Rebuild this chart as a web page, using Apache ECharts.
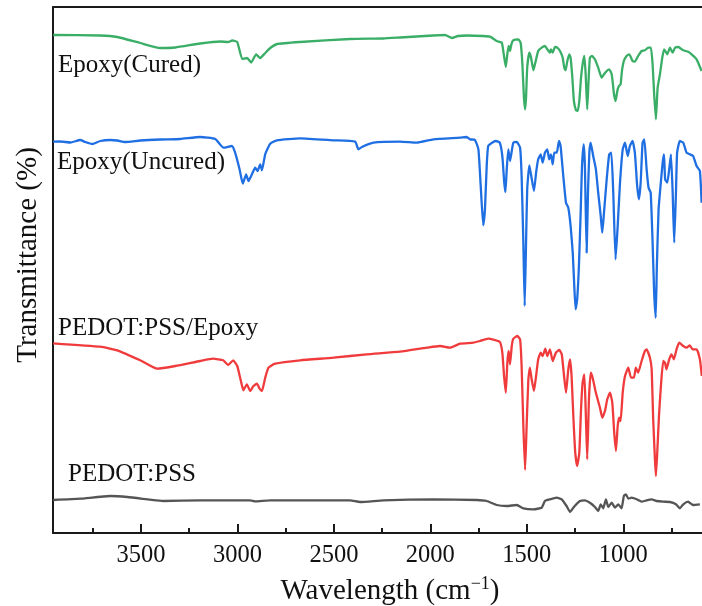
<!DOCTYPE html>
<html>
<head>
<meta charset="utf-8">
<script src="https://cdn.jsdelivr.net/npm/echarts@6/dist/echarts.min.js"></script>
<style>
  html, body { margin: 0; padding: 0; background: #fff; }
  #main { width: 702px; height: 606px; }
</style>
</head>
<body>
<div id="main"></div>
<script>
// wavenumber (cm-1) and stacked transmittance (a.u., offset per curve)
var curedWn = [3955,3711,3623,3504,3400,3322,3193,3089,3048,3027,3001,2975,2950,2929,2903,2882,2856,2830,2794,2675,2416,2245,2157,1986,1924,1888,1857,1810,1727,1691,1656,1630,1622,1609,1601,1594,1587,1580,1570,1544,1532,1523,1515,1509,1504,1498,1487,1478,1466,1456,1441,1423,1406,1394,1380,1375,1366,1354,1342,1328,1314,1306,1299,1290,1280,1273,1264,1256,1245,1236,1228,1219,1211,1202,1195,1187,1180,1173,1162,1147,1130,1112,1100,1086,1073,1060,1048,1040,1031,1023,1014,1007,997,983,969,952,940,923,905,888,871,857,848,840,831,822,810,798,788,772,758,744,732,715,689,664,646,620,594];
var curedT = [498,497.5,496,490,485,485.5,489.5,491.5,491,492.5,491,474,475,470.5,478.5,475,480,485,489,491,494,494.5,495.5,497.5,498,495,497,497.5,497,496.3,492,490.3,482,466,479,487,482,488.7,492.7,493.7,490.3,469,435.3,423.7,435.3,465.3,480.3,475.3,462.7,470.3,482,485.3,487,483.7,480.3,483.7,480.3,486,485.3,482,475.3,465.3,462.7,472,478.7,475.3,455.3,432,422.7,422,432,455.3,468.7,477,458.7,423.7,452,475.3,477,473.7,465.3,455.3,458.7,462,463.7,458.7,438.7,432,442,447,448.7,462,472,477,478.7,472,471.3,477,482,482.7,485.3,485.3,468.7,438.7,413.7,445.3,458.7,475.3,483.7,478.7,485.3,480.3,485.3,486,482.7,481.3,478.7,473.7,462];

var uncuredWn = [3955,3918,3866,3815,3789,3752,3711,3659,3623,3582,3504,3400,3297,3193,3115,3072,3029,3012,2989,2972,2955,2943,2925,2908,2896,2882,2873,2856,2830,2796,2675,2502,2390,2373,2355,2295,2157,2071,1984,1846,1812,1794,1769,1751,1739,1726,1717,1708,1700,1674,1660,1640,1627,1617,1611,1604,1596,1587,1578,1570,1552,1535,1527,1518,1511,1504,1498,1487,1477,1463,1452,1441,1428,1418,1406,1394,1384,1375,1366,1358,1345,1333,1325,1311,1297,1285,1273,1262,1254,1247,1239,1230,1221,1214,1205,1199,1190,1183,1176,1169,1156,1142,1130,1117,1109,1100,1086,1073,1062,1052,1040,1029,1017,1003,991,977,966,952,940,928,919,910,900,891,879,869,858,848,840,832,826,817,807,796,789,783,772,762,753,744,736,727,721,707,689,672,655,638,620,603,594];
var uncuredT = [391.3,391.5,390.5,393,391,389,392,393,392.5,391,392.5,393.5,394,396,394,385.3,387,380.3,363.7,349.3,358.7,352,358.7,365.3,362,368.7,362.7,378.7,389.3,392.7,394.7,392.7,391.3,383.7,386,390.3,391.3,390.3,393.7,395.3,396,393.7,393,383.7,347,307.7,323.7,367,387,391,392,390.3,377,350.3,341,363.7,383.7,372,382,390.3,391,385.3,357,290.3,227,290.3,343.7,367.7,357,342,360.3,373.7,378.7,370.3,380.3,383.7,373.7,378.7,368.7,380.3,380.3,392,387,357,330.3,325.3,307,280.3,247,223.7,233.7,267,320.3,367,388.7,367,280.3,340.3,380.3,390.3,377,363.7,340.3,317,300.3,320.3,353.7,378.7,380.3,340.3,273.7,307,350.3,383.7,390.3,377,387,392,380.3,347,333.7,350.3,390.3,393.7,363.7,345.3,340.3,290.3,240.3,215.3,267,323.7,347,370.3,378.7,353.7,350.3,363.7,378.7,340.3,290.3,340.3,380.3,392,390.3,380.3,378.7,377,367,362,330.3];

var compWn = [3955,3711,3623,3504,3416,3322,3193,3126,3074,3048,3022,3001,2982,2969,2951,2934,2917,2899,2886,2873,2856,2839,2805,2675,2502,2330,2157,2019,1950,1898,1846,1777,1743,1700,1640,1627,1618,1609,1601,1594,1587,1578,1570,1549,1535,1527,1518,1509,1501,1492,1484,1475,1463,1452,1441,1428,1418,1404,1394,1380,1366,1349,1332,1319,1307,1297,1285,1276,1268,1259,1249,1239,1228,1219,1211,1202,1195,1187,1178,1169,1159,1142,1121,1109,1095,1083,1069,1057,1047,1038,1029,1021,1014,1003,991,974,960,945,935,923,905,888,879,862,853,845,836,831,824,815,805,793,784,776,762,750,738,724,710,689,672,655,641,620,603,593];
var compT = [189.7,186.3,182.7,172.7,164.3,167,172,174.3,172.7,168,172.7,167,152,142.7,148.7,142,147,149.3,144.7,142,155.3,165.3,169.3,172.7,175.3,178.7,181.3,185.3,187,185.3,189.3,190.3,192,194.3,191,180.3,157,140.3,170.3,182,168.7,187,194.3,197,193.7,167,107,63,107,153.7,165.3,153.7,142,157,173.7,180.3,177,184.3,177,183.7,172,180.3,183,178.7,157,140.3,163.7,173.7,157,117,80.3,67,80.3,123.7,150.3,158.7,123.7,73.7,133.7,160.3,155.3,140.3,125.3,115.3,122,133.7,140.3,130.3,100.3,82,107,115.3,112,140.3,157,165.3,155.3,155.3,165.3,160.3,172,182,183.7,175.3,163.7,113.7,73.7,57,80.3,117,147,172,170.3,163.7,173.7,178.7,173.7,183.7,190.3,187,185.3,187.7,183.7,183.7,173.7,157];

var pedotWn = [3955,3815,3659,3571,3452,3385,3193,2934,2908,2830,2416,2364,2243,1984,1760,1708,1656,1604,1552,1518,1466,1423,1406,1380,1345,1319,1294,1276,1256,1225,1199,1173,1147,1130,1117,1104,1090,1078,1060,1043,1026,1009,997,986,974,957,931,905,879,853,827,793,758,727,707,689,664,638,603];
var pedotT = [33,34.3,37,36,33.3,32,32.7,32.7,31.7,32.7,32.7,31,32.7,33.7,33,32,28,27,28,24.7,23.7,25.3,32,33.7,35.3,33.7,27,21,26,32,32.7,30.3,26,22,28.7,24.7,33.7,26,30.3,25.3,28.7,24.7,37,38.7,34.3,35.3,33.7,31.3,32.7,33.7,32,31.3,31,28.7,24.7,28.7,31.3,28,28.7];

// tick scale: 500 to 4000 every 500, with one minor tick between
var tickMin = 500, tickMax = 4000, tickStep = 500;

function zip(xs, ys) {
  var out = [];
  for (var i = 0; i < xs.length; i++) out.push([xs[i], ys[i]]);
  return out;
}

window.onload = function () {
  var chart = echarts.init(document.getElementById('main'));
  var serif = 'Liberation Serif';
  var xmin = 592, xmax = 3956;
  var frame = { color: '#1a1a1a', width: 2 };
  var left = 53, width = 649;
  var k = width / (xmax - xmin);
  // tick grid spans 500..4000 on the same scale as the data grid
  var tickLeft = left - (tickMax - xmax) * k;
  var tickWidth = (tickMax - tickMin) * k;

  function spectrum(name, wn, t, color) {
    return {
      name: name,
      type: 'line',
      xAxisIndex: 0,
      yAxisIndex: 0,
      showSymbol: false,
      smooth: 0.15,
      animation: false,
      lineStyle: { color: color, width: 2.3 },
      data: zip(wn, t)
    };
  }

  chart.setOption({
    backgroundColor: '#fff',
    animation: false,
    grid: [
      { left: left, width: width, top: 7, height: 526, outerBoundsMode: 'none' },
      { left: tickLeft, width: tickWidth, top: 7, height: 526, outerBoundsMode: 'none' }
    ],
    xAxis: [{
      gridIndex: 0, type: 'value', min: xmin, max: xmax, inverse: true, position: 'bottom',
      axisLine: { show: true, lineStyle: frame },
      axisTick: { show: false },
      axisLabel: { show: false },
      splitLine: { show: false }
    }, {
      gridIndex: 0, type: 'value', min: xmin, max: xmax, inverse: true, position: 'top',
      axisLine: { show: true, lineStyle: frame },
      axisTick: { show: false },
      axisLabel: { show: false },
      splitLine: { show: false }
    }, {
      gridIndex: 1, type: 'value', min: tickMin, max: tickMax, interval: tickStep, inverse: true, position: 'bottom',
      axisLine: { show: false },
      axisTick: { show: true, inside: true, length: 9, lineStyle: frame },
      minorTick: { show: true, splitNumber: 2, length: 5, lineStyle: frame },
      axisLabel: {
        show: true, margin: 10, color: '#111', fontFamily: serif, fontSize: 24.5,
        showMinLabel: false, showMaxLabel: false,
        formatter: function (v) { return String(v); }
      },
      splitLine: { show: false }
    }],
    yAxis: [{
      gridIndex: 0, type: 'value', min: 0, max: 526,
      axisLine: { show: true, lineStyle: frame },
      axisTick: { show: false },
      axisLabel: { show: false },
      splitLine: { show: false }
    }, {
      gridIndex: 1, type: 'value', min: 0, max: 526, show: false
    }],
    series: [
      spectrum('Epoxy(Cured)', curedWn, curedT, '#3aae66'),
      spectrum('Epoxy(Uncured)', uncuredWn, uncuredT, '#1f6fe3'),
      spectrum('PEDOT:PSS/Epoxy', compWn, compT, '#f03b3d'),
      spectrum('PEDOT:PSS', pedotWn, pedotT, '#555555')
    ],
    graphic: [
      // mask the 4000 tick that sits left of the frame
      { type: 'rect', left: 34, top: 512, z: 100, shape: { width: 17, height: 24 }, style: { fill: '#fff' } },
      { type: 'text', left: 58, top: 53, style: { text: 'Epoxy(Cured)', font: '25px "Liberation Serif"', fill: '#111' } },
      { type: 'text', left: 57, top: 150, style: { text: 'Epoxy(Uncured)', font: '25px "Liberation Serif"', fill: '#111' } },
      { type: 'text', left: 58, top: 316, style: { text: 'PEDOT:PSS/Epoxy', font: '25px "Liberation Serif"', fill: '#111' } },
      { type: 'text', left: 68, top: 462, style: { text: 'PEDOT:PSS', font: '25px "Liberation Serif"', fill: '#111' } },
      {
        type: 'text', x: 28, y: 255, rotation: Math.PI / 2,
        style: { text: 'Transmittance (%)', font: '29px "Liberation Serif"', fill: '#111', align: 'center', verticalAlign: 'middle' }
      },
      {
        type: 'text', x: 390, y: 591,
        style: {
          text: '{a|Wavelength (cm}{s|\u22121}{a|)}',
          align: 'center', verticalAlign: 'middle',
          rich: {
            a: { fontFamily: serif, fontSize: 29, fill: '#111', color: '#111' },
            s: { fontFamily: serif, fontSize: 18, fill: '#111', color: '#111', padding: [0, 0, 14, 0] }
          }
        }
      }
    ]
  });
};
</script>
</body>
</html>
